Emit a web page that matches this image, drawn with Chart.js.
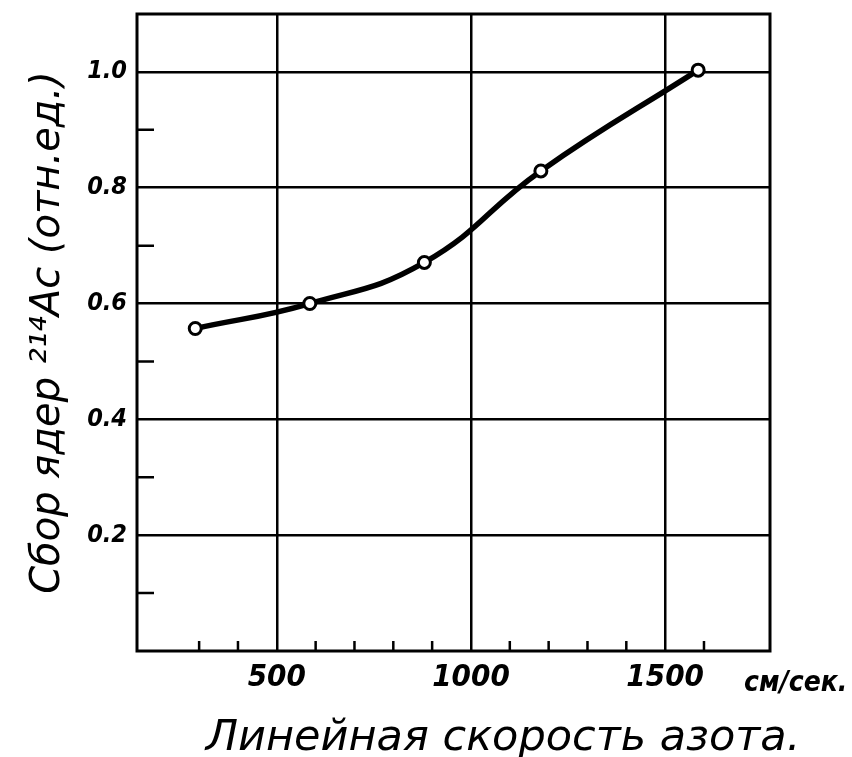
<!DOCTYPE html>
<html>
<head>
<meta charset="utf-8">
<script src="https://cdn.jsdelivr.net/npm/chart.js@4.4.1/dist/chart.umd.min.js"></script>
<style>html,body{margin:0;background:#fff}</style>
</head>
<body>
<canvas id="c" width="852" height="757"></canvas>
<script>
// nitrogen flow speed (cm/s) vs. relative yield
const speeds = [290, 585, 880, 1180, 1585];
const yieldRel = [0.557, 0.600, 0.671, 0.829, 1.003];
const xMajor = [500, 1000, 1500];
const xMinor = [300, 400, 600, 700, 800, 900, 1100, 1200, 1300, 1400, 1600];
const yMajor = [0.2, 0.4, 0.6, 0.8, 1.0];
const yMinor = [0.1, 0.3, 0.5, 0.7, 0.9];
const xTitle = 'Линейная скорость азота.';
const xUnit = 'см/сек.';
const yTitle = 'Сбор ядер ²¹⁴Ac (отн.ед.)';

const numFont = '"DejaVu Sans Condensed", sans-serif';
const handFont = '"DejaVu Sans", sans-serif';

const frame = {
  id: 'frame',
  beforeDatasetsDraw(chart) {
    const {ctx, chartArea: a, scales: {x, y}} = chart;
    ctx.save();
    ctx.strokeStyle = '#000';
    ctx.lineWidth = 2.5;
    ctx.beginPath();
    xMinor.forEach(v => {
      const px = x.getPixelForValue(v);
      ctx.moveTo(px, a.bottom); ctx.lineTo(px, a.bottom - 10);
    });
    yMinor.forEach(v => {
      const py = y.getPixelForValue(v);
      ctx.moveTo(a.left, py); ctx.lineTo(a.left + 17, py);
    });
    ctx.stroke();
    ctx.lineWidth = 3;
    ctx.strokeRect(a.left, a.top, a.right - a.left, a.bottom - a.top);
    ctx.restore();
  },
  afterDraw(chart) {
    const {ctx} = chart;
    ctx.save();
    ctx.fillStyle = '#000';
    ctx.textBaseline = 'alphabetic';
    ctx.font = 'oblique bold 28px ' + numFont;
    ctx.fillText(xUnit, 744, 691);
    ctx.font = 'oblique 43px ' + handFont;
    ctx.textAlign = 'center';
    ctx.fillText(xTitle, 503, 750);
    ctx.restore();
  }
};

new Chart(document.getElementById('c').getContext('2d'), {
  type: 'line',
  data: {
    datasets: [{
      data: speeds.map((s, i) => ({x: s, y: yieldRel[i]})),
      borderColor: '#000',
      borderWidth: 5.5,
      tension: 0.45,
      pointRadius: 6,
      pointBorderWidth: 3,
      pointBorderColor: '#000',
      pointBackgroundColor: '#fff'
    }]
  },
  options: {
    responsive: false,
    animation: false,
    layout: {padding: {left: 0, right: 82, top: 14, bottom: 0}},
    plugins: {legend: {display: false}, tooltip: {enabled: false}},
    scales: {
      x: {
        type: 'linear', min: 140, max: 1770,
        afterBuildTicks: s => { s.ticks = xMajor.map(v => ({value: v})); },
        afterFit: s => { s.height = 106; s.paddingLeft = 0; s.paddingRight = 0; },
        grid: {color: '#000', lineWidth: 2.5, drawTicks: false},
        border: {display: false},
        ticks: {padding: 8, color: '#000', font: {family: numFont, size: 31, style: 'italic', weight: 'bold'},
          callback: v => String(v)}
      },
      y: {
        min: 0, max: 1.1,
        afterBuildTicks: s => { s.ticks = yMajor.map(v => ({value: v})); },
        afterFit: s => { s.width = 137; s.paddingTop = 0; s.paddingBottom = 0; },
        grid: {color: '#000', lineWidth: 2.5, drawTicks: false},
        border: {display: false},
        ticks: {padding: 10, color: '#000', font: {family: numFont, size: 25, style: 'italic', weight: 'bold'},
          callback: v => v.toFixed(1)},
        title: {display: true, text: yTitle, color: '#000', padding: {top: 25, bottom: 0},
          font: {family: handFont, size: 40, style: 'oblique'}}
      }
    }
  },
  plugins: [frame]
});
</script>
</body>
</html>
